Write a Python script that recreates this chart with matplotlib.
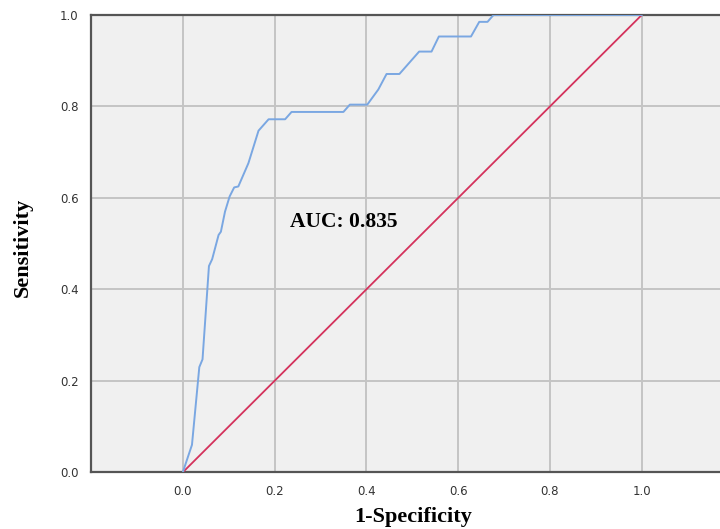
import matplotlib
matplotlib.use("Agg")
import matplotlib.pyplot as plt

# ROC curve points (1-Specificity, Sensitivity)
fpr = [0.0, 0.020, 0.036, 0.043, 0.057, 0.064, 0.078, 0.083, 0.092, 0.102, 0.112,
       0.121, 0.143, 0.165, 0.187, 0.223, 0.237, 0.350, 0.364, 0.397, 0.402,
       0.426, 0.444, 0.472, 0.515, 0.542, 0.558, 0.628, 0.646, 0.664, 0.677, 1.0]
tpr = [0.0, 0.060, 0.230, 0.247, 0.451, 0.466, 0.519, 0.526, 0.570, 0.603, 0.623,
       0.625, 0.676, 0.747, 0.772, 0.772, 0.788, 0.788, 0.804, 0.804, 0.804,
       0.837, 0.871, 0.871, 0.920, 0.920, 0.953, 0.953, 0.985, 0.985, 1.0, 1.0]
ref_x = [0.0, 1.0]
ref_y = [0.0, 1.0]
xticks = [0.0, 0.2, 0.4, 0.6, 0.8, 1.0]
yticks = [0.0, 0.2, 0.4, 0.6, 0.8, 1.0]
auc_text = "AUC: 0.835"

fig = plt.figure(figsize=(7.2, 5.29), dpi=100)
ax = fig.add_axes([91/720, 56.7/529, 642.5/720, 457.3/529])
ax.set_facecolor("#f0f0f0")
ax.set_xlim(-0.2, 1.2)
ax.set_ylim(0, 1.0)

ax.set_xticks(xticks)
ax.set_yticks(yticks)
ax.set_xticklabels([f"{v:.1f}" for v in xticks])
ax.set_yticklabels([f"{v:.1f}" for v in yticks])
ax.tick_params(length=0, labelsize=8.5, labelcolor="#333333", pad=9)
ax.grid(True, color="#c4c4c4", linewidth=1.4)
ax.set_axisbelow(True)

for s in ["left", "bottom", "top"]:
    ax.spines[s].set_color("#555555")
    ax.spines[s].set_linewidth(1.6)
ax.spines["right"].set_visible(False)

ax.plot(ref_x, ref_y, color="#d4325c", linewidth=1.3, zorder=3)
ax.plot(fpr, tpr, color="#7aa7e2", linewidth=1.4, zorder=4)

ax.text(0.234, 0.548, auc_text, fontsize=15.5, fontweight="bold",
        family="Liberation Serif", ha="left", va="center")

fig.text(413/720, 1 - 517/529, "1-Specificity", fontsize=16, fontweight="bold",
         family="Liberation Serif", ha="center", va="center")
fig.text(22.5/720, 1 - 247/529, "Sensitivity", fontsize=16, fontweight="bold",
         family="Liberation Serif", ha="center", va="center", rotation=90)

fig.savefig("out.png", dpi=100)
